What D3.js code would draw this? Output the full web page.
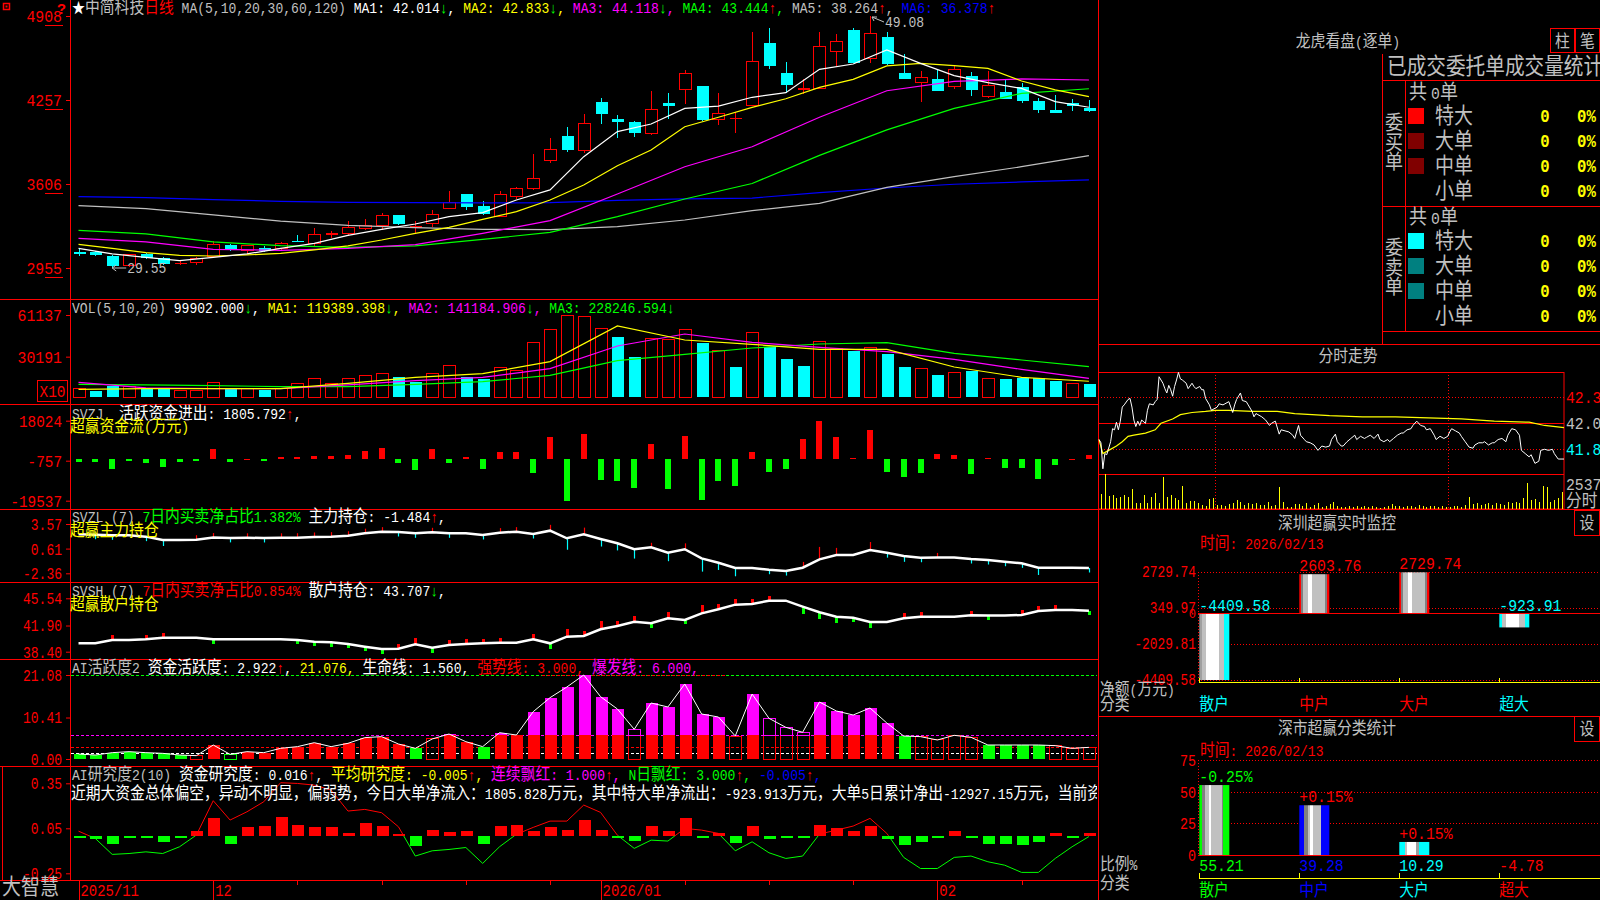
<!DOCTYPE html>
<html>
<head>
<meta charset="utf-8">
<script src="https://cdn.jsdelivr.net/npm/d3@7"></script>
<style>
body{margin:0;background:#000;overflow:hidden}
svg{display:block}
</style>
</head>
<body>
<script>
// ---------- data ----------
var opens = [30.78,30.82,30.48,29.73,30.63,30.30,29.86,29.96,30.48,31.33,
  30.90,31.07,31.05,31.68,31.46,32.11,32.24,32.60,32.81,33.63,
  32.66,33.01,34.15,35.29,34.36,33.53,35.08,35.70,37.89,39.78,
  38.64,42.42,41.10,40.86,39.99,42.31,43.40,43.66,41.07,41.19,
  42.16,47.01,44.66,43.40,43.45,46.34,47.99,45.80,47.45,44.69,
  43.94,44.20,43.60,44.43,42.83,43.19,43.58,42.49,41.80,42.31,41.92];
var highs = [31.07,30.89,30.56,30.66,30.74,30.43,30.09,30.43,31.62,31.38,
  31.33,31.25,31.54,32.08,32.62,32.42,33.19,33.35,33.84,33.63,
  33.17,34.05,35.52,35.29,34.74,35.52,35.85,38.39,39.65,40.50,
  41.49,42.75,41.41,40.97,43.27,43.08,44.90,43.66,43.08,41.61,
  47.84,48.15,45.52,44.17,47.84,47.69,48.15,49.08,47.84,46.13,
  44.82,44.97,45.23,44.74,44.82,44.12,43.86,42.75,42.96,42.65,42.54];
var lows = [30.48,30.48,29.55,29.65,30.27,29.78,29.78,29.78,30.43,30.90,
  30.63,30.82,30.95,31.62,31.20,31.85,32.06,32.48,32.52,32.86,
  32.24,32.76,34.10,34.05,33.66,33.48,34.90,35.62,37.66,38.57,
  38.49,40.68,39.60,39.68,39.86,41.10,42.23,40.92,40.66,39.99,
  42.11,45.00,43.08,43.03,43.40,45.21,45.41,45.41,45.26,44.22,
  42.39,43.29,43.45,42.91,42.70,42.67,42.36,41.57,41.54,41.75,41.65];
var closes = [30.76,30.56,29.73,30.61,30.35,29.86,29.96,30.30,31.38,30.95,
  31.26,30.89,31.46,31.66,32.16,32.24,32.68,32.83,33.63,32.99,
  32.78,33.71,34.59,34.30,33.71,35.26,35.75,36.50,38.75,38.72,
  40.76,41.51,40.89,40.04,41.85,42.13,44.59,41.02,41.49,41.21,
  45.52,45.23,43.73,43.47,46.75,47.12,45.46,47.69,45.39,44.22,
  44.28,43.29,44.90,43.37,43.66,42.67,42.52,41.80,41.59,42.07,41.74];

var maIdxFast = [1,3,5,7,9,11,13,15,17,19,21,23,25,27,29,31,33,35,37,39,41,43,45,47,49,51,53,55,57,59,61];
var ma5 = [31.07,30.64,30.38,30.12,30.38,30.64,31.07,31.46,32.08,32.55,32.96,33.53,33.84,34.82,35.60,38.18,40.12,40.71,41.92,42.10,42.78,43.14,44.95,45.36,46.45,45.41,44.46,43.91,43.47,42.44,42.01];
var ma10 = [31.38,31.07,30.74,30.53,30.48,30.56,30.69,30.95,31.26,31.72,32.24,32.70,33.32,33.92,34.82,35.98,37.48,38.70,40.50,41.23,42.00,42.67,43.55,44.17,45.21,45.41,45.23,45.02,44.04,43.35,42.83];
var maIdxSlow = [1,5,9,13,17,21,25,29,33,37,41,45,49,53,57,61];
var ma20 = [31.85,31.57,31.00,30.92,31.07,31.36,32.24,33.22,35.29,37.40,38.95,41.23,43.29,44.02,44.20,44.12];
var ma30 = [32.47,32.19,31.57,31.28,31.15,31.26,31.77,32.31,33.53,34.90,36.10,38.28,40.25,41.92,43.09,43.44];
var ma60 = [34.38,34.15,33.66,33.19,32.86,32.68,32.55,32.52,32.75,33.27,33.99,34.56,35.80,36.63,37.40,38.26];
var ma120 = [35.08,35.00,34.85,34.72,34.64,34.61,34.59,34.61,34.79,34.90,34.97,35.39,35.75,36.04,36.22,36.38];
var priceTicks = [49.08, 42.57, 36.06, 29.55];
var priceTickLabels = ["4908","4257","3606","2955"];

var volumes = [6190,4700,8415,7670,6435,6435,4700,4700,11140,6435,
  6680,5445,6435,10150,14110,10400,14110,16335,17820,14850,
  11630,17820,23760,15345,13610,22275,19550,40840,50000,61130,
  60390,50740,45045,30195,43810,43065,50490,40095,34900,22770,
  48260,37125,28460,23265,41580,36135,34400,37125,32420,22770,
  21530,16580,18560,19305,14110,13610,14600,14600,12130,10395,9990];
var volDir = "rccrccrrrcrcrrrrrrrccrrccrrrrrrrccrrrcrcrcccrrcrccrcrcrccccrc".split("");
var volMa5 = [5940,6435,6435,6435,10395,14850,17570,26480,52965,42570,39350,35640,35640,22520,14850,11940];
var volMa10 = [11140,6930,6435,6435,9160,12375,14850,21285,38115,47025,40840,37125,33910,28215,20790,14118];
var volMa20 = [9650,9160,8660,7920,7920,9650,11630,16335,27225,31930,36630,39600,40590,32670,27720,22825];
var volTicks = [61137, 30191];
var volTickLabels = ["61137","30191"];

var svzj = [-1593,-1590,-4460,-800,-2070,-3500,-1270,-800,4940,-1590,
  200,-800,800,800,1270,1270,2070,3980,5420,-2070,
  -4940,4940,-2070,800,-4460,3500,3500,-6370,10200,-19537,
  11630,-9880,-10360,-13540,6850,-14020,10680,-19440,-10360,-12750,
  3500,-6050,-4620,9240,18024,10200,640,13540,-6050,-8440,
  -6530,2550,2070,-7010,640,-4140,-4140,-9400,-2710,200,1806];
var svzjTicks = [18024, -757, -19537];
var svzjTickLabels = ["18024","-757","-19537"];

var svzl = [2.33,2.28,2.21,2.21,2.05,1.64,1.64,1.68,1.94,1.90,
  1.91,1.89,1.91,1.92,2.01,2.05,2.16,2.45,2.65,2.61,
  2.45,2.57,2.45,2.45,2.25,2.53,2.65,2.37,2.77,1.85,
  2.33,1.77,1.25,0.53,0.77,0.12,0.53,-0.56,-1.09,-1.72,
  -1.72,-1.93,-2.09,-1.69,-0.68,-0.16,-0.16,0.44,0.12,-0.28,
  -0.49,-0.45,-0.45,-0.64,-0.76,-0.97,-1.16,-1.69,-1.69,-1.69,-1.72];
var svzlTicks = [3.57, 0.61, -2.36];
var svzlTickLabels = ["3.57","0.61","-2.36"];

var svsh = [39.52,39.52,39.97,39.97,40.06,40.27,40.27,40.27,40.06,40.06,
  40.06,40.06,40.06,39.97,39.74,39.66,39.43,39.07,38.76,38.80,
  39.39,38.94,39.30,39.43,39.52,39.61,39.61,40.06,39.52,40.41,
  40.50,41.40,41.84,42.41,42.20,42.87,42.64,43.53,44.07,44.69,
  44.78,45.22,45.22,44.42,43.67,43.08,42.95,42.37,42.37,42.87,
  43.08,43.08,43.08,43.27,43.23,43.23,43.31,43.84,43.98,43.98,43.88];
var svshTicks = [45.54, 41.90, 38.40];
var svshTickLabels = ["45.54","41.90","38.40"];

var aiVals = [1.25,1.0,1.59,1.84,1.59,1.42,1.0,0.84,3.51,1.17,
  1.84,1.59,2.68,3.10,4.10,3.10,3.93,5.36,5.61,3.76,
  2.68,5.02,6.27,4.35,3.10,6.61,6.02,11.87,15.39,18.07,
  21.08,15.64,12.55,7.45,14.05,13.05,18.82,11.29,10.54,5.77,
  16.31,10.21,7.95,6.70,14.30,12.05,11.04,12.80,9.03,5.77,
  5.61,4.77,5.94,5.44,3.51,3.51,3.51,3.51,3.35,2.68,2.92];
var aiType = "ggggggghrkrrrrrrrrrrghrrgrrrrrrrrhrrrrrhrhhhrrrrrghhhhgggghhh".split("");
var aiLevels = [21.076, 6.0, 3.0, 1.56];
var aiHot = [29, 39];
var aiTicks = [21.08, 10.41, 0.00];
var aiTickLabels = ["21.08","10.41","0.00"];

var rsBars = [-0.015,-0.022,-0.053,-0.005,-0.005,-0.04,-0.003,0.033,0.118,-0.053,
  0.058,0.064,0.124,0.073,0.058,0.058,0.018,0.084,0.064,0.009,
  -0.067,0.038,0.027,0.031,-0.053,0.064,0.071,0.031,0.058,0.038,
  0.104,0.038,-0.005,-0.036,0.064,0.031,0.118,-0.003,0.018,-0.049,
  0.064,-0.02,-0.016,-0.004,0.071,0.051,0.031,0.064,-0.02,-0.06,
  -0.04,-0.016,0.031,-0.016,-0.053,-0.053,-0.06,-0.04,0.018,-0.011,0.016];
var rsLine = [0.031,-0.018,-0.124,-0.118,-0.107,-0.118,-0.073,0.005,0.234,0.105,
  0.16,0.227,0.354,0.349,0.338,0.305,0.165,0.176,0.154,0.06,
  -0.135,-0.10,-0.091,-0.078,-0.184,-0.073,0.01,0.056,0.098,0.098,
  0.205,0.156,0.004,-0.084,-0.029,-0.035,0.049,0.038,0.016,-0.10,
  -0.04,-0.113,-0.151,-0.135,0.011,0.038,0.065,0.116,0.016,-0.144,
  -0.218,-0.218,-0.144,-0.135,-0.173,-0.196,-0.244,-0.244,-0.151,-0.073,-0.005];
var rsTicks = [0.35, 0.05, -0.25];
var rsTickLabels = ["0.35","0.05","-0.25"];

var monthIdx = [1, 9, 32, 52];
var monthLabels = ["2025/11","12","2026/01","02"];
var weekIdx = [14, 19, 24, 29, 37, 42, 47, 57];

// intraday (minute, price)
var fsTrend = [[0,41.92],[1,41.89],[2,41.65],[3,41.79],[4,41.78],[6,41.90],[7,42.02],[8,42.01],[9,42.08],[10,42.01],
  [11,42.09],[12,42.22],[13,42.24],[15,42.29],[16,42.30],[17,42.22],[18,42.10],[19,42.04],[20,42.09],[21,42.05],
  [22,42.10],[24,42.07],[25,42.19],[26,42.25],[28,42.24],[29,42.27],[30,42.29],[31,42.50],[33,42.44],[34,42.39],
  [35,42.35],[36,42.42],[37,42.38],[38,42.32],[39,42.41],[40,42.47],[41,42.54],[42,42.48],[43,42.47],[45,42.44],
  [46,42.39],[48,42.44],[49,42.41],[50,42.39],[52,42.41],[53,42.38],[54,42.38],[55,42.30],[57,42.24],[58,42.19],
  [60,42.21],[61,42.22],[62,42.25],[64,42.24],[65,42.25],[67,42.27],[69,42.17],[70,42.24],[71,42.29],[73,42.35],
  [74,42.28],[76,42.27],[77,42.24],[79,42.18],[80,42.13],[81,42.16],[82,42.15],[84,42.13],[86,42.10],[88,42.05],
  [89,42.07],[91,42.09],[93,41.97],[94,42.01],[96,42.00],[98,41.99],[100,41.96],[101,41.93],[102,41.99],[103,42.05],
  [104,41.96],[106,41.92],[107,41.90],[109,41.89],[111,41.87],[113,41.82],[115,41.86],[117,41.85],[119,41.86],[120,41.92],
  [122,41.97],[123,41.90],[125,41.86],[126,41.86],[128,41.90],[130,41.93],[132,41.96],[133,41.92],[135,41.95],[137,41.93],
  [138,41.94],[140,41.96],[142,41.93],[144,41.97],[145,41.92],[147,41.90],[149,41.92],[150,41.90],[152,41.93],[154,41.96],
  [156,41.98],[157,41.98],[159,42.01],[161,42.02],[162,42.05],[164,42.09],[166,42.05],[168,42.04],[169,42.01],[171,42.02],
  [173,41.96],[174,41.92],[176,41.95],[178,41.93],[180,41.95],[181,41.99],[182,42.02],[184,42.00],[186,41.98],[187,41.95],
  [189,41.90],[191,41.85],[193,41.84],[194,41.87],[196,41.89],[198,41.89],[199,41.90],[201,41.87],[203,41.89],[204,41.89],
  [206,41.92],[208,41.93],[210,41.90],[211,41.96],[213,42.02],[215,42.01],[217,41.96],[218,41.82],[220,41.79],[222,41.76],
  [223,41.78],[225,41.70],[227,41.72],[228,41.82],[230,41.83],[232,41.82],[234,41.83],[235,41.79],[237,41.74],[240,41.74]];
var fsAvg = [[0,41.92],[2,41.79],[5,41.82],[9,41.86],[12,41.90],[15,41.95],[18,41.96],[24,41.98],[29,42.01],[32,42.07],
  [38,42.11],[42,42.15],[48,42.17],[55,42.18],[60,42.19],[67,42.19],[79,42.18],[92,42.18],[101,42.16],[119,42.14],
  [136,42.13],[153,42.13],[170,42.12],[187,42.11],[204,42.09],[222,42.08],[230,42.05],[240,42.03]];
// volume per two-minute slot
var fsVol = [1098,2537,976,1025,781,903,1025,903,1440,415,415,1025,464,854,1147,415,2367,903,1025,781,
  659,1684,415,610,610,415,293,220,708,781,293,293,244,366,415,659,537,293,415,366,
  415,293,293,537,244,293,1586,537,171,171,342,366,220,415,171,293,415,171,220,366,
  537,220,171,171,220,171,244,171,220,171,220,171,98,171,220,366,244,220,171,220,
  244,171,293,220,171,244,220,171,244,171,171,244,220,171,293,854,366,464,293,342,
  415,293,415,366,293,537,464,537,464,781,1879,659,708,537,1684,1635,537,659,781,1269];
var fsPriceTicks = [42.31, 42.07, 41.83];

var orderRows = ["特大","大单","中单","小单"];

var szCats = ["散户","中户","大户","超大"];
var szValues = [-4409.58, 2603.76, 2729.74, -923.91];
var szTicks = [2729.74, 349.97, -2029.81, -4409.58];
var smRatio = [55.21, 39.28, 10.29, -4.78];
var smChange = ["-0.25%","+0.15%","+0.15%",""];
var smTicks = [75, 50, 25, 0];

// ---------- setup ----------
var RED="#ff0000", CYAN="#00ffff", GREEN="#00ff00", MAG="#ff00ff", YEL="#ffff00",
    GRAY="#c0c0c0", BLUE="#0000ff", WHITE="#ffffff";
var FONT = '"Liberation Mono","Noto Sans CJK SC",monospace';
var RUNS = /[\u2e80-\u9fff\uff00-\uffef]+|[^\u2e80-\u9fff\uff00-\uffef]+/g;
var CJK = /[\u2e80-\u9fff\uff00-\uffef]/;
var n = opens.length;

var svg = d3.select("body").append("svg").attr("width",1600).attr("height",900);
svg.append("rect").attr("width",1600).attr("height",900).attr("fill","#000");
var defs = svg.append("defs");
defs.append("clipPath").attr("id","mainClip").append("rect").attr("x",71).attr("y",0).attr("width",1026).attr("height",900);

function rich(x, y, segs, o){
  o = o || {};
  var t = (o.parent || svg).append("text")
    .attr("transform","translate("+x+","+y+") scale(0.87,1)")
    .attr("font-family",FONT).attr("font-size",o.a||15)
    .attr("text-anchor",o.anchor||"start")
    .attr("font-weight",o.bold?"bold":null)
    .style("white-space","pre");
  segs.forEach(function(s){
    (s[0].match(RUNS)||[]).forEach(function(p){
      t.append("tspan").attr("fill",s[1]).attr("font-size", CJK.test(p)?(o.c||17):(o.a||15)).text(p);
    });
  });
  return t;
}
function hline(y, x1, x2, col, dash){
  svg.append("line").attr("x1",x1).attr("x2",x2).attr("y1",Math.round(y)+0.5).attr("y2",Math.round(y)+0.5)
    .attr("stroke",col||RED).attr("stroke-dasharray",dash||null).attr("shape-rendering","crispEdges");
}
function vline(x, y1, y2, col, dash){
  svg.append("line").attr("x1",Math.round(x)+0.5).attr("x2",Math.round(x)+0.5).attr("y1",y1).attr("y2",y2)
    .attr("stroke",col||RED).attr("stroke-dasharray",dash||null).attr("shape-rendering","crispEdges");
}
function axis(scale, vals, labels, perChar){
  var g = svg.append("g").attr("transform","translate(70,0)")
    .call(d3.axisLeft(scale).tickValues(vals).tickFormat(function(d,i){ return labels[i]; }).tickSize(4).tickPadding(4));
  g.select(".domain").remove();
  g.attr("color",RED).attr("font-family",FONT).attr("font-size",17);
  g.selectAll("text").each(function(){
    d3.select(this).attr("textLength", this.textContent.length*(perChar||8.6)).attr("lengthAdjust","spacingAndGlyphs");
  });
  return g;
}

var x = d3.scaleBand().domain(d3.range(n)).range([70.1, 70.1 + n*16.84]);
function cx(i){ return x(i) + x.bandwidth()/2; }
function px(i){ return Math.round(cx(i)) + 0.5; }
function pairs(idx, vals){ return idx.map(function(k,j){ return [k-1, vals[j]]; }); }

// ---------- frame ----------
[299, 404, 509, 582, 659, 766, 880].forEach(function(y){ hline(y, 0, 1098); });
vline(70, 0, 880);
vline(1098, 0, 900);
vline(2, 766, 880);

// ---------- price panel ----------
var yP = d3.scaleLinear().domain([29.55, 49.08]).range([268, 16]);
axis(yP, priceTicks, priceTickLabels, 8.9);
svg.append("g").selectAll("line").data(priceTicks).enter().append("line")
  .attr("x1",45).attr("x2",63).attr("y1",function(d){ return Math.round(yP(d)+9)+0.5; })
  .attr("y2",function(d){ return Math.round(yP(d)+9)+0.5; }).attr("stroke",RED);

var candles = opens.map(function(o,i){ return {i:i, o:o, h:highs[i], l:lows[i], c:closes[i]}; });
var gK = svg.append("g").attr("shape-rendering","crispEdges");
gK.selectAll(".wick").data(candles).enter().append("line")
  .attr("x1",function(d){ return px(d.i); }).attr("x2",function(d){ return px(d.i); })
  .attr("y1",function(d){ return yP(d.h); }).attr("y2",function(d){ return yP(d.l); })
  .attr("stroke",function(d){ return d.c>=d.o ? RED : CYAN; });
gK.selectAll(".body").data(candles).enter().append("rect")
  .attr("x",function(d){ return px(d.i)-6; }).attr("width",12)
  .attr("y",function(d){ return yP(Math.max(d.o,d.c)); })
  .attr("height",function(d){ return Math.max(1.5, yP(Math.min(d.o,d.c)) - yP(Math.max(d.o,d.c))); })
  .attr("fill",function(d){
    var h = yP(Math.min(d.o,d.c)) - yP(Math.max(d.o,d.c));
    if (h < 2) return d.c>=d.o ? RED : CYAN;
    return d.c>=d.o ? "#000" : CYAN; })
  .attr("stroke",function(d){
    var h = yP(Math.min(d.o,d.c)) - yP(Math.max(d.o,d.c));
    return (d.c>=d.o && h>=2) ? RED : "none"; });

var maLine = d3.line().x(function(d){ return cx(d[0]); }).y(function(d){ return yP(d[1]); });
[[ma120,BLUE,maIdxSlow],[ma60,GRAY,maIdxSlow],[ma30,GREEN,maIdxSlow],[ma20,MAG,maIdxSlow],[ma10,YEL,maIdxFast],[ma5,WHITE,maIdxFast]]
  .forEach(function(m){
    svg.append("path").datum(pairs(m[2], m[0])).attr("d",maLine).attr("fill","none").attr("stroke",m[1]).attr("stroke-width",1.2);
  });

// extreme marks
var hiX = cx(47), loX = cx(2);
svg.append("path").attr("d","M"+(hiX+2)+","+(yP(49.08)+1)+" L"+(hiX+14)+","+(yP(49.08)+6)+" M"+(hiX+2)+","+(yP(49.08)+1)+" l5,0 M"+(hiX+2)+","+(yP(49.08)+1)+" l2,4")
  .attr("stroke",GRAY).attr("fill","none");
rich(hiX+15, yP(49.08)+11, [["49.08",GRAY]]);
svg.append("path").attr("d","M"+(loX)+","+yP(29.55)+" l14,0 M"+loX+","+yP(29.55)+" l4,-3 M"+loX+","+yP(29.55)+" l4,3")
  .attr("stroke",GRAY).attr("fill","none");
rich(loX+15, yP(29.55)+5, [["29.55",GRAY]]);

// top-left marks
svg.append("rect").attr("x",3.5).attr("y",3.5).attr("width",6).attr("height",6).attr("fill","none").attr("stroke",RED).attr("stroke-width",1.5);
svg.append("rect").attr("x",5.5).attr("y",5.5).attr("width",2).attr("height",2).attr("fill",RED);
svg.append("text").attr("x",57).attr("y",14).attr("font-family",FONT).attr("font-size",15).attr("font-weight","bold").attr("fill",RED).text("?");

rich(72, 13, [["★",WHITE],["中简科技",GRAY],["日线",RED],[" MA(5,10,20,30,60,120) ",GRAY],
  ["MA1: 42.014",WHITE],["↓",GREEN],[", ",WHITE],["MA2: 42.833",YEL],["↓",GREEN],[", ",YEL],
  ["MA3: 44.118",MAG],["↓",GREEN],[", ",MAG],["MA4: 43.444",GREEN],["↑",RED],[", ",GREEN],
  ["MA5: 38.264",GRAY],["↑",RED],[", ",GRAY],["MA6: 36.378",BLUE],["↑",RED]]);

// ---------- volume ----------
var yV = d3.scaleLinear().domain([0, 61137]).range([397.3, 315]);
axis(yV, volTicks, volTickLabels, 8.9);
svg.append("rect").attr("x",37.5).attr("y",380.5).attr("width",30).attr("height",21).attr("fill","none").attr("stroke",RED);
svg.append("text").attr("x",52.5).attr("y",397).attr("text-anchor","middle").attr("font-family",FONT).attr("font-size",17)
  .attr("fill",RED).attr("textLength",26).attr("lengthAdjust","spacingAndGlyphs").text("X10");
var gVol = svg.append("g").attr("shape-rendering","crispEdges");
gVol.selectAll("rect").data(volumes).enter().append("rect")
  .attr("x",function(d,i){ return px(i)-6; }).attr("width",12)
  .attr("y",function(d){ return yV(d); }).attr("height",function(d){ return yV(0)-yV(d); })
  .attr("fill",function(d,i){ return volDir[i]==="r" ? "#000" : CYAN; })
  .attr("stroke",function(d,i){ return volDir[i]==="r" ? RED : "none"; });
var vLine = d3.line().x(function(d){ return cx(d[0]); }).y(function(d){ return yV(d[1]); });
[[volMa20,GREEN],[volMa10,MAG],[volMa5,YEL]].forEach(function(m){
  svg.append("path").datum(pairs(maIdxSlow, m[0])).attr("d",vLine).attr("fill","none").attr("stroke",m[1]).attr("stroke-width",1.2);
});
rich(72, 313, [["VOL(5,10,20) ",GRAY],["99902.000",WHITE],["↓",GREEN],[", ",WHITE],
  ["MA1: 119389.398",YEL],["↓",GREEN],[", ",YEL],["MA2: 141184.906",MAG],["↓",GREEN],[", ",MAG],
  ["MA3: 228246.594",GREEN],["↓",GREEN]]);

// ---------- SVZJ ----------
var yZJ = d3.scaleLinear().domain([-19537, 18024]).range([500.7, 420.7]);
axis(yZJ, svzjTicks, svzjTickLabels, 8.6);
svg.append("g").attr("shape-rendering","crispEdges").selectAll("rect").data(svzj).enter().append("rect")
  .attr("x",function(d,i){ return Math.round(cx(i))-3; }).attr("width",6)
  .attr("y",function(d){ return d>=0 ? yZJ(d) : yZJ(0); })
  .attr("height",function(d){ return Math.max(1.5, Math.abs(yZJ(d)-yZJ(0))); })
  .attr("fill",function(d){ return d>=0 ? RED : GREEN; });
rich(72, 418.5, [["SVZJ  ",GRAY],["活跃资金进出: 1805.792",WHITE],["↑",RED],[",",WHITE]]);
rich(70, 432, [["超赢资金流(万元)",YEL]]);

// ---------- SVZL ----------
var yZL = d3.scaleLinear().domain([-2.36, 3.57]).range([573.3, 524]);
axis(yZL, svzlTicks, svzlTickLabels, 7.8);
var gZL = svg.append("g");
svzl.forEach(function(v,i){
  if (i===0) return;
  var dv = v - svzl[i-1];
  if (Math.abs(dv) < 0.005) return;
  var len = Math.max(3, Math.abs(yZL(v)-yZL(svzl[i-1]))*1.3) + 1.5;
  var y0 = yZL(v);
  gZL.append("line").attr("x1",px(i)).attr("x2",px(i)).attr("y1",y0).attr("y2", dv>0 ? y0-len : y0+len)
    .attr("stroke", dv>0 ? RED : CYAN).attr("stroke-width",1.2);
});
svg.append("path").datum(svzl).attr("fill","none").attr("stroke",WHITE).attr("stroke-width",2.5)
  .attr("d", d3.line().x(function(d,i){ return cx(i); }).y(function(d){ return yZL(d); }));
rich(72, 522, [["SVZL (7) ",GRAY],["7日内买卖净占比1.382%",GREEN],[" 主力持仓: -1.484",WHITE],["↑",RED],[",",WHITE]]);
rich(70, 535.5, [["超赢主力持仓",YEL]]);

// ---------- SVSH ----------
var ySH = d3.scaleLinear().domain([38.40, 45.54]).range([651.7, 598.3]);
axis(ySH, svshTicks, svshTickLabels, 7.8);
var gSH = svg.append("g").attr("shape-rendering","crispEdges");
svsh.forEach(function(v,i){
  if (i===0) return;
  var dv = v - svsh[i-1];
  if (Math.abs(dv) < 0.005) return;
  var len = Math.max(3, Math.abs(ySH(v)-ySH(svsh[i-1]))) + 1.5;
  var y0 = ySH(v);
  gSH.append("rect").attr("x",Math.round(cx(i))-1.5).attr("width",3)
    .attr("y", dv>0 ? y0-len : y0).attr("height",len).attr("fill", dv>0 ? RED : GREEN);
});
svg.append("path").datum(svsh).attr("fill","none").attr("stroke",WHITE).attr("stroke-width",2.5)
  .attr("d", d3.line().x(function(d,i){ return cx(i); }).y(function(d){ return ySH(d); }));
rich(72, 596, [["SVSH (7) ",GRAY],["7日内买卖净占比0.854%",RED],[" 散户持仓: 43.707",WHITE],["↓",GREEN],[",",WHITE]]);
rich(70, 610, [["超赢散户持仓",YEL]]);

// ---------- AI 活跃度 ----------
var yA = d3.scaleLinear().domain([0, 21.08]).range([759, 675]);
axis(yA, aiTicks, aiTickLabels, 7.8);
var lvlCols = [GREEN, MAG, RED, WHITE];
aiLevels.forEach(function(v,k){ hline(yA(v), 71, 1097, lvlCols[k], "3,2"); });
hline(yA(aiLevels[0]), x(aiHot[0]-1), x(aiHot[1]-1)+x.step(), RED, "3,2");
var gA = svg.append("g").attr("shape-rendering","crispEdges");
aiVals.forEach(function(v,i){
  var t = aiType[i], xl = px(i)-6, base = yA(0), mid = yA(Math.min(v,6)), top = yA(v);
  if (t==="g" || t==="k"){
    gA.append("rect").attr("x",xl).attr("width",12).attr("y",top).attr("height",base-top)
      .attr("fill", t==="g" ? GREEN : "none").attr("stroke", t==="k" ? GREEN : "none");
    return;
  }
  var solid = t==="r";
  gA.append("rect").attr("x",xl).attr("width",12).attr("y",mid).attr("height",base-mid)
    .attr("fill", solid ? RED : "none").attr("stroke", solid ? "none" : RED);
  if (v > 6){
    gA.append("rect").attr("x",xl).attr("width",12).attr("y",top).attr("height",yA(6)-top)
      .attr("fill", solid ? MAG : "none").attr("stroke", solid ? "none" : MAG);
  }
});
svg.append("path").datum(aiVals).attr("fill","none").attr("stroke",WHITE).attr("stroke-width",1)
  .attr("d", d3.line().x(function(d,i){ return cx(i); }).y(function(d){ return yA(d); }));
rich(72, 672.5, [["AI活跃度2 ",GRAY],["资金活跃度: 2.922",WHITE],["↑",RED],[", ",WHITE],["21.076, ",YEL],
  ["生命线: 1.560, ",WHITE],["强势线: 3.000, ",RED],["爆发线: 6.000,",MAG]]);

// ---------- AI 研究度 ----------
var yR = d3.scaleLinear().domain([-0.25, 0.35]).range([873.3, 783.3]);
axis(yR, rsTicks, rsTickLabels, 7.8);
svg.append("g").attr("shape-rendering","crispEdges").selectAll("rect").data(rsBars).enter().append("rect")
  .attr("x",function(d,i){ return px(i)-6; }).attr("width",12)
  .attr("y",function(d){ return d>=0 ? yR(d) : yR(0); })
  .attr("height",function(d){ return Math.max(2, Math.abs(yR(d)-yR(0))); })
  .attr("fill",function(d){ return d>=0 ? RED : GREEN; });
var gRL = svg.append("g");
function seg(x0,y0,x1,y1,col){ gRL.append("line").attr("x1",x0).attr("y1",yR(y0)).attr("x2",x1).attr("y2",yR(y1)).attr("stroke",col); }
for (var i=0; i<n-1; i++){
  var a = rsLine[i], b = rsLine[i+1], x0 = cx(i), x1 = cx(i+1);
  if ((a>=0) === (b>=0)) seg(x0,a,x1,b, a>=0 ? RED : GREEN);
  else { var xm = x0 + (x1-x0)*a/(a-b); seg(x0,a,xm,0, a>=0 ? RED : GREEN); seg(xm,0,x1,b, b>=0 ? RED : GREEN); }
}
var gClip = svg.append("g").attr("clip-path","url(#mainClip)");
rich(72, 780, [["AI研究度2(10) ",GRAY],["资金研究度: 0.016",WHITE],["↑",RED],[", ",WHITE],
  ["平均研究度: -0.005",YEL],["↑",RED],[", ",YEL],["连续飘红: 1.000",MAG],["↑",RED],[", ",MAG],
  ["N日飘红: 3.000",GREEN],["↑",RED],[", ",GREEN],["-0.005",BLUE],["↑",RED],[",",BLUE]], {parent:gClip});
rich(71, 799, [["近期大资金总体偏空，异动不明显，偏弱势，今日大单净流入：1805.828万元，其中特大单净流出：-923.913万元，大单5日累计净出-12927.15万元，当前资金状态偏弱",WHITE]], {parent:gClip});

// ---------- date axis ----------
monthIdx.forEach(function(k,j){
  vline(cx(k-1), 880, 900);
  rich(cx(k-1)+2, 896, [[monthLabels[j],RED]], {a:16});
});
weekIdx.forEach(function(k){ vline(cx(k-1), 880, 885); });
rich(2, 894, [["大智慧",GRAY]], {c:21.8});

// ---------- right: order statistics ----------
rich(1348, 47, [["龙虎看盘(逐单)",GRAY]], {anchor:"middle"});
[[1550,"柱"],[1575,"笔"]].forEach(function(b){
  svg.append("rect").attr("x",b[0]+0.5).attr("y",28.5).attr("width",24).attr("height",24).attr("fill","none").attr("stroke",RED);
  rich(b[0]+12.5, 47, [[b[1],GRAY]], {anchor:"middle"});
});
vline(1382, 54, 344);
hline(80, 1382, 1600); hline(205.7, 1382, 1600); hline(330.7, 1382, 1600);
vline(1405, 80, 331);
rich(1387, 74, [["已成交委托单成交量统计",GRAY]], {c:22.6});
var buyCols = [RED,"#800000","#800000",null], sellCols = [CYAN,"#008080","#008080",null];
[[91.7,"委买单",buyCols,116],[216.7,"委卖单",sellCols,241]].forEach(function(blk){
  rich(1409, blk[0]+7, [["共",GRAY]], {c:20.7});
  rich(1431, blk[0]+7, [["0",GRAY],["单",GRAY]], {c:20.7, a:17});
  blk[1].split("").forEach(function(ch,k){ rich(1394, blk[3]+14+k*19.5, [[ch,GRAY]], {anchor:"middle", c:20.7}); });
  orderRows.forEach(function(r,k){
    var yc = blk[3] + k*25;
    if (blk[2][k]) svg.append("rect").attr("x",1408).attr("y",yc-8).attr("width",16).attr("height",16).attr("fill",blk[2][k]);
    rich(1435, yc+7, [[r,GRAY]], {c:21.8});
    rich(1545, yc+6, [["0",YEL]], {anchor:"middle", a:18, bold:true});
    rich(1577, yc+6, [["0%",YEL]], {a:18, bold:true});
  });
});

// ---------- right: intraday ----------
hline(344, 1098, 1600);
rich(1348, 362, [["分时走势",GRAY]], {anchor:"middle"});
var fx = d3.scaleLinear().domain([0, 240]).range([1099, 1564]);
var fy = d3.scaleLinear().domain([41.599, 42.541]).range([474.3, 372.3]);
var fv = d3.scaleLinear().domain([0, 2537]).range([509, 474.3]);
svg.append("rect").attr("x",1098.5).attr("y",372.5).attr("width",465.5).attr("height",136.5).attr("fill","none").attr("stroke",RED);
hline(fy(42.07), 1098, 1564);
hline(474.3, 1098, 1564);
hline(fy(42.31), 1098, 1564, RED, "1,2");
hline(fy(41.83), 1098, 1564, RED, "1,2");
vline(fx(60), 372, 509, RED, "1,2");
vline(fx(180), 372, 509, RED, "1,2");
svg.append("g").attr("shape-rendering","crispEdges").selectAll("line").data(fsVol).enter().append("line")
  .attr("x1",function(d,k){ return Math.round(fx(2*k+1))+0.5; }).attr("x2",function(d,k){ return Math.round(fx(2*k+1))+0.5; })
  .attr("y1",fv(0)).attr("y2",function(d){ return fv(d); }).attr("stroke",YEL);
svg.append("path").datum(fsAvg).attr("fill","none").attr("stroke",YEL).attr("stroke-width",1.2)
  .attr("d", d3.line().x(function(d){ return fx(d[0]); }).y(function(d){ return fy(d[1]); }));
svg.append("path").datum(fsTrend).attr("fill","none").attr("stroke",WHITE).attr("stroke-width",1)
  .attr("d", d3.line().x(function(d){ return fx(d[0]); }).y(function(d){ return fy(d[1]); }));
var fsCols = [RED, GRAY, CYAN];
fsPriceTicks.forEach(function(v,k){ rich(1566, fy(v)+6, [[v.toFixed(2),fsCols[k]]], {a:17}); });
rich(1566, 490, [["2537",GRAY]], {a:17});
rich(1566, 507, [["分时",GRAY]], {c:18});

// ---------- right: Shenzhen monitor ----------
hline(509, 1098, 1600);
var catX = d3.scaleBand().domain(szCats).range([1199.3, 1599.3]);
function bars(yS, vals, grads, base){
  svg.append("g").selectAll("rect").data(vals).enter().append("rect")
    .attr("x",function(d,k){ return catX(szCats[k]); }).attr("width",30)
    .attr("y",function(d){ return Math.min(yS(d), yS(base)); })
    .attr("height",function(d){ return Math.abs(yS(d)-yS(base)); })
    .attr("fill",function(d,k){ return grads[k] ? "url(#"+grads[k]+")" : "none"; });
}
function grad(id, stops){
  var g = defs.append("linearGradient").attr("id",id).attr("x1",0).attr("x2",1).attr("y1",0).attr("y2",0);
  stops.forEach(function(s){ g.append("stop").attr("offset",s[0]).attr("stop-color",s[1]); });
}
function hard(bands){ var out=[]; bands.forEach(function(b){ out.push([b[0],b[2]]); out.push([b[1],b[2]]); }); return out; }
grad("gSan", hard([[0,0.1,"#a0a0a0"],[0.1,0.22,GRAY],[0.22,0.66,WHITE],[0.66,0.83,GRAY],[0.83,1,CYAN]]));
grad("gPos", hard([[0,0.05,RED],[0.05,0.12,"#808080"],[0.12,0.3,GRAY],[0.3,0.42,WHITE],[0.42,0.85,GRAY],[0.85,0.93,"#808080"],[0.93,1,RED]]));
grad("gSup", hard([[0,0.1,CYAN],[0.1,0.22,GRAY],[0.22,0.66,WHITE],[0.66,0.84,GRAY],[0.84,1,CYAN]]));
grad("gG", hard([[0,0.1,GREEN],[0.1,0.2,"#808080"],[0.2,0.33,GRAY],[0.33,0.4,WHITE],[0.4,0.75,GRAY],[0.75,0.8,"#808080"],[0.8,1,GREEN]]));
grad("gB", hard([[0,0.17,BLUE],[0.17,0.3,"#808080"],[0.3,0.36,GRAY],[0.36,0.44,WHITE],[0.44,0.73,GRAY],[0.73,1,BLUE]]));
grad("gC", hard([[0,0.19,CYAN],[0.19,0.27,GRAY],[0.27,0.56,WHITE],[0.56,0.66,"#a0a0a0"],[0.66,1,CYAN]]));

rich(1337, 528.5, [["深圳超赢实时监控",GRAY]], {anchor:"middle"});
svg.append("rect").attr("x",1574.5).attr("y",510.5).attr("width",25).attr("height",25).attr("fill","none").attr("stroke",RED);
rich(1587, 529, [["设",GRAY]], {anchor:"middle"});
rich(1200, 549, [["时间: 2026/02/13",RED]]);
var yS = d3.scaleLinear().domain([-4409.58, 2729.74]).range([680, 572.3]);
szTicks.forEach(function(v){
  hline(yS(v), 1198, 1600, RED, "1,2");
  svg.append("text").attr("x",1196).attr("y",yS(v)+5).attr("text-anchor","end").attr("font-family",FONT).attr("font-size",16)
    .attr("fill",RED).attr("textLength",v.toFixed(2).length*7.7).attr("lengthAdjust","spacingAndGlyphs").text(v.toFixed(2));
});
vline(1197.7, yS(szTicks[0]), yS(szTicks[3]), RED, "1,2");
svg.append("text").attr("x",1196).attr("y",yS(0)+5).attr("text-anchor","end").attr("font-family",FONT).attr("font-size",12).attr("fill",RED).text("0");
bars(yS, szValues, ["gSan","gPos","gPos","gSup"], 0);
hline(yS(0), 1198, 1600);
hline(682.3, 1199, 1600, YEL);
szCats.forEach(function(c){ vline(catX(c), 678, 682, YEL); });
szValues.forEach(function(v,k){
  var yl = v>=0 ? yS(v)-3 : yS(0)-2;
  rich(catX(szCats[k]), yl, [[v.toFixed(2), v>=0 ? RED : CYAN]], {a:17});
});
rich(1100, 695, [["净额(万元)",GRAY]]);
rich(1100, 710, [["分类",GRAY]]);
szCats.forEach(function(c,k){ rich(catX(c), 710, [[c, szValues[k]>=0 ? RED : CYAN]]); });

// ---------- right: Shenzhen classification ----------
hline(716, 1098, 1600);
rich(1337, 734, [["深市超赢分类统计",GRAY]], {anchor:"middle"});
svg.append("rect").attr("x",1574.5).attr("y",716.5).attr("width",25).attr("height",25).attr("fill","none").attr("stroke",RED);
rich(1587, 735, [["设",GRAY]], {anchor:"middle"});
rich(1200, 756, [["时间: 2026/02/13",RED]]);
var yM = d3.scaleLinear().domain([0, 75]).range([855, 760]);
smTicks.forEach(function(v){
  if (v > 0) hline(yM(v), 1198, 1600, RED, "1,2");
  svg.append("text").attr("x",1196).attr("y",yM(v)+6).attr("text-anchor","end").attr("font-family",FONT).attr("font-size",17)
    .attr("fill",RED).attr("textLength",String(v).length*8).attr("lengthAdjust","spacingAndGlyphs").text(v);
});
vline(1197.7, yM(75), yM(0), RED, "1,2");
bars(yM, smRatio.map(function(v){ return Math.max(v,0); }), ["gG","gB","gC",null], 0);
hline(yM(0), 1198, 1600);
var smCols = [GREEN, BLUE, CYAN, RED];
smRatio.forEach(function(v,k){
  if (smChange[k]) rich(catX(szCats[k]), yM(v)-3, [[smChange[k], smChange[k].charAt(0)==="-" ? GREEN : RED]], {a:17});
  rich(catX(szCats[k]), 871, [[v.toFixed(2), smCols[k]]], {a:17});
});
hline(877.7, 1199, 1600, YEL);
szCats.forEach(function(c){ vline(catX(c), 873, 878, YEL); });
rich(1100, 870, [["比例%",GRAY]]);
rich(1100, 889, [["分类",GRAY]]);
szCats.forEach(function(c,k){ rich(catX(c), 896, [[c, smCols[k]]]); });
</script>
</body>
</html>
